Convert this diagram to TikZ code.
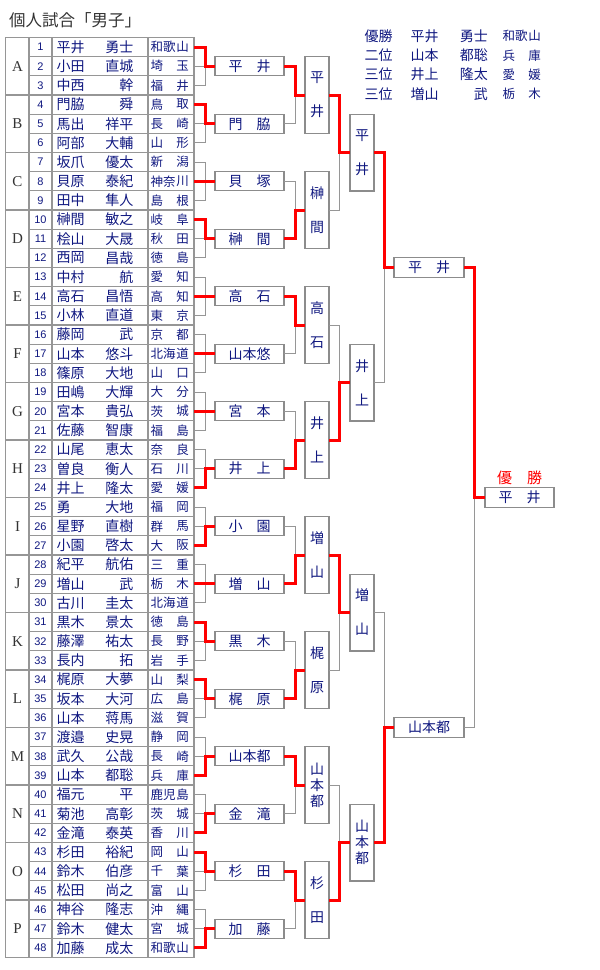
\documentclass[tikz,border=0pt]{standalone}
\usepackage{fontspec}
\usepackage{xcolor}
\usepackage{tikz}
\usetikzlibrary{positioning}
\newfontfamily\jp{Noto Sans CJK JP}
\newfontfamily\numf{Liberation Sans}
\newfontfamily\grpf{Liberation Serif}
\definecolor{navy}{RGB}{16,24,128}
\definecolor{tabgray}{RGB}{150,150,150}
\definecolor{boxgray}{RGB}{140,140,140}
\definecolor{linegray}{RGB}{150,150,150}
\definecolor{winred}{RGB}{255,0,0}
\definecolor{ink}{RGB}{51,51,51}
\def\rh{19.1667}

\begin{document}
\begin{tikzpicture}
  [x=1pt,y=-1pt,
    tabline/.style={draw=tabgray,line width=1.3pt},
    gline/.style={draw=linegray,line width=1pt},
    rline/.style={draw=winred,line width=3pt,line join=miter},
    yokobox/.style={draw=boxgray,line width=1.3pt,fill=white,inner sep=0pt,outer sep=0pt,
      minimum width=69pt,minimum height=19pt,text=navy,font=\jp\fontsize{14}{14}\selectfont},
    tatebox/.style={draw=boxgray,line width=1.3pt,fill=white,inner sep=0pt,outer sep=0pt,
      minimum width=24pt,minimum height=76.7pt,text=navy,align=center},
    numtxt/.style={inner sep=0pt,text=navy,font=\numf\fontsize{11}{11}\selectfont},
    seitxt/.style={inner sep=0pt,text=navy,font=\jp\fontsize{14}{14}\selectfont},
    kentxt/.style={inner sep=0pt,text=navy,font=\jp\fontsize{12.5}{12.5}\selectfont},
    grptxt/.style={inner sep=0pt,text=ink,font=\grpf\fontsize{15}{15}\selectfont}]
  \useasboundingbox (0,0) rectangle (600,970);

  \node[anchor=west,inner sep=0pt,text=ink,font=\jp\fontsize{16.5}{16.5}\selectfont] (title) at (9,20) {個人試合「男子」};

  % table
  \draw[tabline] (5.5,37.5) rectangle (194,957.5);
  \foreach \xx in {29,52,148} \draw[tabline] (\xx,37.5) -- (\xx,957.5);
  \foreach \i in {1,...,47} \draw[tabline] (29,{37.5+\i*\rh}) -- (194,{37.5+\i*\rh});
  \foreach \g in {1,...,15} \draw[tabline] (5.5,{37.5+3*\g*\rh}) -- (29,{37.5+3*\g*\rh});

  \foreach \L [count=\g] in {A,B,C,D,E,F,G,H,I,J,K,L,M,N,O,P}
    \node[grptxt] (grp\g) at (17.5,{37.5+(3*\g-1.5)*\rh}) {\L};

  \foreach \n/\sei/\mei/\ka/\kb in {1/平井/勇士/和歌/山, 2/小田/直城/埼/玉, 3/中西/幹/福/井,
    4/門脇/舜/鳥/取, 5/馬出/祥平/長/崎, 6/阿部/大輔/山/形, 7/坂爪/優太/新/潟,
    8/貝原/泰紀/神奈/川, 9/田中/隼人/島/根, 10/榊間/敏之/岐/阜, 11/桧山/大晟/秋/田,
    12/西岡/昌哉/徳/島, 13/中村/航/愛/知, 14/高石/昌悟/高/知, 15/小林/直道/東/京,
    16/藤岡/武/京/都, 17/山本/悠斗/北海/道, 18/篠原/大地/山/口, 19/田嶋/大輝/大/分,
    20/宮本/貴弘/茨/城, 21/佐藤/智康/福/島, 22/山尾/恵太/奈/良, 23/曽良/衡人/石/川,
    24/井上/隆太/愛/媛, 25/勇/大地/福/岡, 26/星野/直樹/群/馬, 27/小園/啓太/大/阪,
    28/紀平/航佑/三/重, 29/増山/武/栃/木, 30/古川/圭太/北海/道, 31/黒木/景太/徳/島,
    32/藤澤/祐太/長/野, 33/長内/拓/岩/手, 34/梶原/大夢/山/梨, 35/坂本/大河/広/島,
    36/山本/蒋馬/滋/賀, 37/渡邉/史晃/静/岡, 38/武久/公哉/長/崎, 39/山本/都聡/兵/庫,
    40/福元/平/鹿児/島, 41/菊池/高彰/茨/城, 42/金滝/泰英/香/川, 43/杉田/裕紀/岡/山,
    44/鈴木/伯彦/千/葉, 45/松田/尚之/富/山, 46/神谷/隆志/沖/縄, 47/鈴木/健太/宮/城,
    48/加藤/成太/和歌/山} {
    \pgfmathsetmacro\yy{37.5+(\n-0.5)*\rh}
    \node[numtxt] (num\n) at (40.5,\yy) {\n};
    \node[seitxt,anchor=west] (sei\n) at (56.5,\yy) {\sei};
    \node[seitxt,anchor=east] (mei\n) at (133.5,\yy) {\mei};
    \node[kentxt,anchor=west] (kena\n) at (150.5,\yy) {\ka};
    \node[kentxt,anchor=east] (kenb\n) at (189,\yy) {\kb};
    \coordinate (e\n) at (194,\yy);
  }

  % first round
  \foreach \g/\w/\lab in {1/1/平　井, 2/1/門　脇, 3/2/貝　塚, 4/1/榊　間, 5/2/高　石,
    6/2/山本悠, 7/2/宮　本, 8/3/井　上, 9/3/小　園, 10/2/増　山, 11/1/黒　木,
    12/1/梶　原, 13/3/山本都, 14/3/金　滝, 15/1/杉　田, 16/3/加　藤} {
    \pgfmathtruncatemacro\ra{3*\g-2}
    \pgfmathtruncatemacro\rb{3*\g-1}
    \pgfmathtruncatemacro\rc{3*\g}
    \pgfmathtruncatemacro\rw{3*\g-3+\w}
    \node[yokobox] (a\g) at (249.5,{37.5+(3*\g-1.5)*\rh}) {\lab};
    \draw[gline] (e\ra) -- ++(11,0) |- (e\rc);
    \draw[gline] (e\rb) -- (a\g.west);
    \draw[rline] (e\rw) -- ++(11,0) |- (a\g.west);
  }

  % second round
  \foreach \k/\w/\bs/\lab in {1/1/34/{平\\井}, 2/2/34/{榊\\間}, 3/1/34/{高\\石},
    4/2/34/{井\\上}, 5/2/34/{増\\山}, 6/2/34/{梶\\原}, 7/1/16/{山\\本\\都}, 8/1/34/{杉\\田}} {
    \pgfmathtruncatemacro\ia{2*\k-1}
    \pgfmathtruncatemacro\ib{2*\k}
    \pgfmathtruncatemacro\iw{2*\k-2+\w}
    \node[tatebox,font=\jp\fontsize{14}{\bs}\selectfont] (b\k) at (317,{37.5+(6*\k-3)*\rh}) {\lab};
    \draw[gline] (a\ia.east) -- ++(11,0) |- (a\ib.east);
    \draw[gline] (b\k.west) -- ++(-10,0);
    \draw[rline] (a\iw.east) -- ++(11,0) |- (b\k.west);
  }

  % third round
  \foreach \k/\w/\bs/\lab in {1/1/34/{平\\井}, 2/2/34/{井\\上}, 3/1/34/{増\\山}, 4/2/16/{山\\本\\都}} {
    \pgfmathtruncatemacro\ia{2*\k-1}
    \pgfmathtruncatemacro\ib{2*\k}
    \pgfmathtruncatemacro\iw{2*\k-2+\w}
    \node[tatebox,font=\jp\fontsize{14}{\bs}\selectfont] (c\k) at (362,{37.5+(12*\k-6)*\rh}) {\lab};
    \draw[gline] (b\ia.east) -- ++(10,0) |- (b\ib.east);
    \draw[gline] (c\k.west) -- ++(-11,0);
    \draw[rline] (b\iw.east) -- ++(10,0) |- (c\k.west);
  }

  % semi-finals
  \node[yokobox,minimum width=70pt,minimum height=20pt] (d1) at (429,{37.5+12*\rh}) {平　井};
  \node[yokobox,minimum width=70pt,minimum height=20pt] (d2) at (429,{37.5+36*\rh}) {山本都};
  \draw[gline] (c1.east) -- ++(10,0) |- (c2.east);
  \draw[gline] (d1.west) -- ++(-10,0);
  \draw[rline] (c1.east) -- ++(10,0) |- (d1.west);
  \draw[gline] (c3.east) -- ++(10,0) |- (c4.east);
  \draw[gline] (d2.west) -- ++(-10,0);
  \draw[rline] (c4.east) -- ++(10,0) |- (d2.west);

  % final
  \node[yokobox,minimum height=20pt] (fin) at (519.5,{37.5+24*\rh}) {平　井};
  \node[above=3pt of fin,inner sep=0pt,text=winred,font=\jp\fontsize{15}{15}\selectfont] (yusho) {優　勝};
  \draw[gline] (d1.east) -- ++(10,0) |- (d2.east);
  \draw[gline] (fin.west) -- ++(-11,0);
  \draw[rline] (d1.east) -- ++(10,0) |- (fin.west);

  % results
  \foreach \rk/\sei/\mei/\ka/\kb [count=\i] in {優勝/平井/勇士/和歌/山, 二位/山本/都聡/兵/庫,
    三位/井上/隆太/愛/媛, 三位/増山/武/栃/木} {
    \pgfmathsetmacro\yy{36+(\i-1)*19.3}
    \node[seitxt,anchor=west] (rk\i) at (364.5,\yy) {\rk};
    \node[seitxt,anchor=west] (rsei\i) at (410.5,\yy) {\sei};
    \node[seitxt,anchor=east] (rmei\i) at (488,\yy) {\mei};
    \node[kentxt,anchor=west] (rkena\i) at (502.5,\yy) {\ka};
    \node[kentxt,anchor=east] (rkenb\i) at (541,\yy) {\kb};
  }
\end{tikzpicture}
\end{document}
